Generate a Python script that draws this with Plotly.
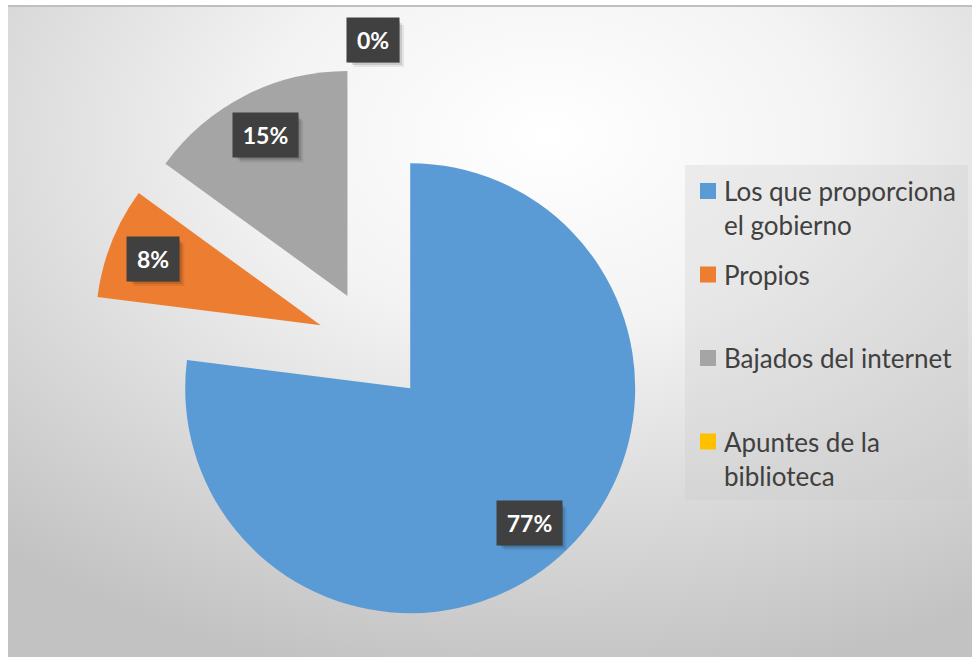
import base64
import math
import textwrap

import plotly.graph_objects as go

# ---- data -------------------------------------------------------------
labels = ["Los que proporciona el gobierno", "Propios", "Bajados del internet",
          "Apuntes de la biblioteca"]
values = [77, 8, 15, 0]
colors = ["#5B9BD5", "#ED7D31", "#A5A5A5", "#FFC000"]

# ---- canvas geometry (pixels) ------------------------------------------
W, H = 972, 657
CX, CY = 373, 346          # centre of the pie before slices are pulled out
R = 225                    # slice radius
PULL = 0.25                # every slice is pulled out by this fraction of R


def px_x(x):
    return x / W


def px_y(y):
    return 1 - y / H


half = R * (1 + PULL)
dom_x = [px_x(CX - half), px_x(CX + half)]
dom_y = [px_y(CY + half), px_y(CY - half)]

fig = go.Figure()

fig.add_trace(go.Pie(
    labels=labels,
    values=values,
    sort=False,
    direction="clockwise",
    rotation=0,
    pull=[PULL] * len(values),
    marker=dict(colors=colors, line=dict(width=0)),
    textinfo="none",
    hoverinfo="label+percent",
    showlegend=False,
    domain=dict(x=dom_x, y=dom_y),
))

shapes = []
annotations = []

# ---- percentage labels in dark boxes ----------------------------------
total = sum(values)
BOX_H = 42
start = 0.0
for lab, val in zip(labels, values):
    frac = val / total
    mid = (start + frac / 2) * 2 * math.pi      # clockwise from 12 o'clock
    start += frac
    ux, uy = math.sin(mid), -math.cos(mid)
    ox, oy = CX + PULL * R * ux, CY + PULL * R * uy
    dist = 0.8 * R if val > 0 else 1.11 * R
    lx, ly = ox + dist * ux, oy + dist * uy
    txt = f"{round(frac * 100)}%"
    bw = 13 * len(txt) + 24
    # soft drop shadow behind the box
    for off, alpha in ((6, 0.07), (4, 0.12), (2, 0.15)):
        shapes.append(dict(type="rect", xref="paper", yref="paper",
                           x0=px_x(lx - bw / 2 + off), x1=px_x(lx + bw / 2 + off),
                           y0=px_y(ly + BOX_H / 2 + off), y1=px_y(ly - BOX_H / 2 + off),
                           fillcolor=f"rgba(0,0,0,{alpha})", line=dict(width=0)))
    annotations.append(dict(x=px_x(lx), y=px_y(ly), xref="paper", yref="paper",
                            showarrow=False, width=bw, height=BOX_H, text=txt,
                            xanchor="center", yanchor="middle",
                            bgcolor="#404040",
                            font=dict(family="Lato, 'Open Sans', sans-serif",
                                      size=23, color="white", weight="bold")))

# ---- legend ------------------------------------------------------------
LEG_X0, LEG_X1, LEG_Y0, LEG_Y1 = 685, 968, 165, 500
shapes.append(dict(type="rect", xref="paper", yref="paper",
                   x0=px_x(LEG_X0), x1=px_x(LEG_X1),
                   y0=px_y(LEG_Y1), y1=px_y(LEG_Y0),
                   fillcolor="rgba(200,200,200,0.28)", line=dict(width=0),
                   layer="below"))
first_line_y = 191
step = 83.5
for i, (lab, col) in enumerate(zip(labels, colors)):
    y = first_line_y + i * step
    shapes.append(dict(type="rect", xref="paper", yref="paper",
                       x0=px_x(700), x1=px_x(716),
                       y0=px_y(y + 8), y1=px_y(y - 8),
                       fillcolor=col, line=dict(width=0)))
    wrapped = "<br>".join(textwrap.wrap(lab, width=20))
    annotations.append(dict(x=px_x(722), y=px_y(y - 18), xref="paper", yref="paper",
                            text=wrapped, showarrow=False, align="left",
                            xanchor="left", yanchor="top",
                            font=dict(family="Lato, 'Open Sans', sans-serif",
                                      size=26, color="#404040")))

# ---- chart frame: top border line ---------------------------------------
shapes.append(dict(type="line", xref="paper", yref="paper",
                   x0=px_x(8), x1=1, y0=px_y(6), y1=px_y(6),
                   line=dict(color="#bfbfbf", width=2)))

# radial gradient chart background
bg_w, bg_h = W - 8, H - 7
svg = f"""<svg xmlns='http://www.w3.org/2000/svg' width='{bg_w}' height='{bg_h}'>
<defs><radialGradient id='g' cx='0.56' cy='0.2' r='0.85' gradientUnits='objectBoundingBox'>
<stop offset='0' stop-color='#ffffff'/>
<stop offset='0.35' stop-color='#f3f3f3'/>
<stop offset='1' stop-color='#c2c2c2'/>
</radialGradient></defs>
<rect width='100%' height='100%' fill='url(#g)'/></svg>"""
bg_uri = "data:image/svg+xml;base64," + base64.b64encode(svg.encode()).decode()

fig.update_layout(
    width=W, height=H,
    margin=dict(l=0, r=0, t=0, b=0),
    paper_bgcolor="white",
    plot_bgcolor="rgba(0,0,0,0)",
    annotations=annotations,
    shapes=shapes,
    images=[dict(source=bg_uri, xref="paper", yref="paper",
                 x=px_x(8), y=px_y(7), sizex=bg_w / W, sizey=bg_h / H,
                 xanchor="left", yanchor="top", sizing="stretch",
                 layer="below")],
)

fig.write_html("out.html")
